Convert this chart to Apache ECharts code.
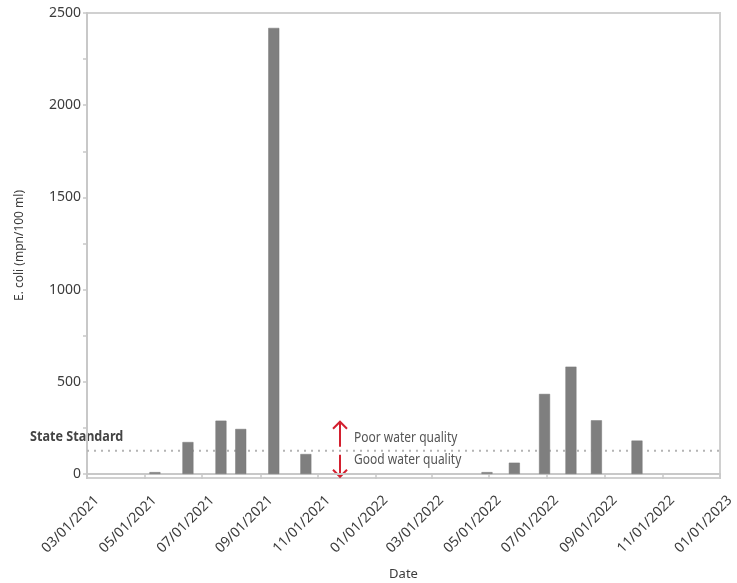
<!DOCTYPE html>
<html>
<head>
<meta charset="utf-8">
<script src="https://cdn.jsdelivr.net/npm/echarts@6/dist/echarts.min.js"></script>
<style>html,body{margin:0;padding:0;background:#fff}#c{width:737px;height:583px}</style>
</head>
<body>
<div id="c"></div>
<script>
const sampleDates = ['2021-05-12','2021-06-16','2021-07-21','2021-08-11','2021-09-15','2021-10-19','2022-04-29','2022-05-28','2022-06-29','2022-07-27','2022-08-23','2022-10-05'];
const ecoliValues = [10,173,289,244,2419,108,10,61,434,582,291,181];
const stateStandard = 126;
const yTickLabels = [0,500,1000,1500,2000,2500];
const yMinorTicks = [0,250,500,750,1000,1250,1500,1750,2000,2250,2500];
const xTickDates = ['2021-03-01','2021-05-01','2021-07-01','2021-09-01','2021-11-01','2022-01-01','2022-03-01','2022-05-01','2022-07-01','2022-09-01','2022-11-01','2023-01-01'];

function ts(s){const p=s.split('-').map(Number);return Date.UTC(p[0],p[1]-1,p[2]);}
function pad(n){return (n<10?'0':'')+n;}
function fmt(v){const d=new Date(v);return pad(d.getUTCMonth()+1)+'/'+pad(d.getUTCDate())+'/'+d.getUTCFullYear();}

const xTicks = xTickDates.map(ts);
const xMin = xTicks[0], xMax = xTicks[xTicks.length-1];
const chart = echarts.init(document.getElementById('c'));
const axisGray = '#c8c8c8';
const textGray = '#3c3c3c';
const cond = '"Noto Sans",sans-serif';

chart.setOption({
  animation:false,
  grid:{left:87,right:17,top:13,bottom:105,outerBoundsMode:'none',containLabel:false,show:true,borderColor:'#d0d0d0',borderWidth:2,backgroundColor:'transparent'},
  xAxis:{
    type:'value', min:xMin, max:xMax, scale:true,
    name:'Date', nameLocation:'middle', nameGap:90,
    nameTextStyle:{fontFamily:'Noto Sans',fontSize:13,color:textGray},
    axisLine:{lineStyle:{color:axisGray,width:2}},
    axisTick:{customValues:xTicks,length:5,lineStyle:{color:axisGray,width:1.5}},
    axisLabel:{customValues:xTicks,rotate:45,margin:20,align:'right',verticalAlign:'top',padding:[0,-7,0,0],fontFamily:'Noto Sans',fontSize:14,color:textGray,formatter:fmt,hideOverlap:false},
    splitLine:{show:false}
  },
  yAxis:{
    type:'value', min:-22, max:2500,
    name:'E. coli (mpn/100 ml)', nameLocation:'middle', nameGap:61,
    nameTextStyle:{fontFamily:'Noto Sans',fontSize:12,color:textGray},
    axisLine:{show:true,lineStyle:{color:axisGray,width:2}},
    axisTick:{show:true,customValues:yMinorTicks,length:4,lineStyle:{color:axisGray,width:1.5}},
    axisLabel:{customValues:yTickLabels,margin:6,fontFamily:'Noto Sans',fontSize:14,color:textGray,formatter:v=>String(v)},
    splitLine:{show:false}
  },
  series:[{
    type:'line', z:1, silent:true, symbol:'none',
    data:[[xMin,stateStandard],[xMax,stateStandard]],
    lineStyle:{color:'#b4b4b4',type:[2,5],width:2}
  },{
    type:'bar', z:3,
    data:sampleDates.map((d,i)=>[ts(d),ecoliValues[i]]),
    barWidth:11,
    itemStyle:{color:'#7f7f7f',borderColor:'#777',borderWidth:0.5}
  }]
});

const ys = chart.convertToPixel({yAxisIndex:0}, stateStandard);
const ax = 340, red = '#d3202f';
chart.setOption({
  graphic:[
    {type:'text',x:30,y:ys-21,scaleX:0.84,style:{text:'State Standard',font:'bold 15px '+cond,fill:'#444'}},
    {type:'polyline',shape:{points:[[ax,ys-4],[ax,ys-29]]},style:{stroke:red,lineWidth:2,fill:null}},
    {type:'polyline',shape:{points:[[ax-7,ys-22],[ax,ys-29],[ax+7,ys-22]]},style:{stroke:red,lineWidth:2,fill:null}},
    {type:'polyline',shape:{points:[[ax,ys+4],[ax,ys+26]]},style:{stroke:red,lineWidth:2,fill:null}},
    {type:'polyline',shape:{points:[[ax-7,ys+19],[ax,ys+26],[ax+7,ys+19]]},style:{stroke:red,lineWidth:2,fill:null}},
    {type:'text',x:354,y:ys-20,scaleX:0.8,style:{text:'Poor water quality',font:'15px '+cond,fill:'#555'}},
    {type:'text',x:354,y:ys+2,scaleX:0.8,style:{text:'Good water quality',font:'15px '+cond,fill:'#555'}}
  ]
});
</script>
</body>
</html>
